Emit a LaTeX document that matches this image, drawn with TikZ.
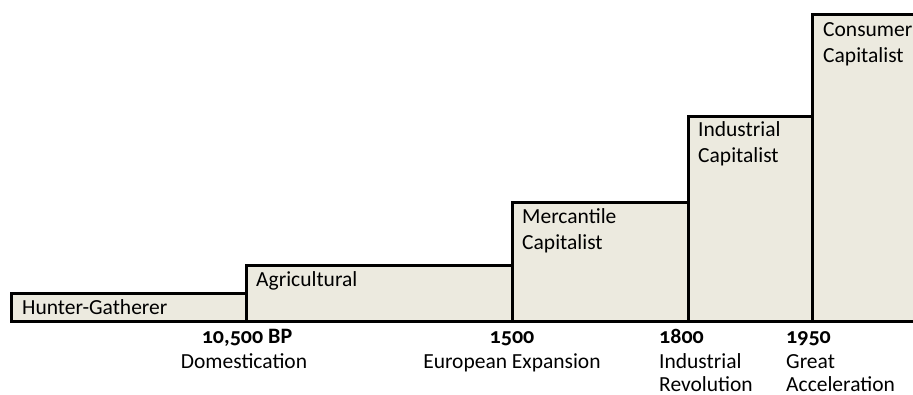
\documentclass[tikz,border=0pt]{standalone}
\usepackage{fontspec}
\setmainfont{Carlito}[Numbers=OldStyle]
\definecolor{boxfill}{RGB}{236,234,223}
\tikzset{
  era/.style={draw=black, line width=3pt, fill=boxfill},
  txtW/.style={anchor=base west, inner sep=0pt, font=\fontsize{21.5}{26}\selectfont},
  txtC/.style={anchor=base, inner sep=0pt, font=\fontsize{21.5}{26}\selectfont},
  yr/.style={font=\fontsize{22}{26}\selectfont\bfseries}
}
\begin{document}
\begin{tikzpicture}[x=1pt,y=-1pt]
\useasboundingbox (0,0) rectangle (913,394);
\draw[era] (11,293) rectangle (246,321);
\draw[era] (246,265) rectangle (512,321);
\draw[era] (512,202) rectangle (688,321);
\draw[era] (688,116) rectangle (812,321);
\draw[era] (812,14) rectangle (930,321);
\coordinate (bl) at (11,321);
\coordinate (br) at (913,321);
\draw[line width=3pt] (bl) -- (br);
% era labels
\node[txtW] (t1) at (22,314) {Hunter-Gatherer};
\node[txtW] (t2) at (256,286) {Agricultural};
\node[txtW] (t3a) at (522,223) {Mercantile};
\node[txtW] (t3b) at (522,249) {Capitalist};
\node[txtW] (t4a) at (698,136) {Industrial};
\node[txtW] (t4b) at (698,162) {Capitalist};
\node[txtW] (t5a) at (823,36) {Consumer};
\node[txtW] (t5b) at (823,62) {Capitalist};
% date labels
\node[txtC,yr] (d1a) at (247,343) {10,500 BP};
\node[txtC] (d1b) at (244,368) {Domestication};
\node[txtC,yr] (d2a) at (512,343) {1500};
\node[txtC] (d2b) at (512,368) {European Expansion};
\node[txtW,yr] (d3a) at (659,343) {1800};
\node[txtW] (d3b) at (659,368) {Industrial};
\node[txtW] (d3c) at (659,391) {Revolution};
\node[txtW,yr] (d4a) at (786,343) {1950};
\node[txtW] (d4b) at (786,368) {Great};
\node[txtW] (d4c) at (786,391) {Acceleration};
\end{tikzpicture}
\end{document}
